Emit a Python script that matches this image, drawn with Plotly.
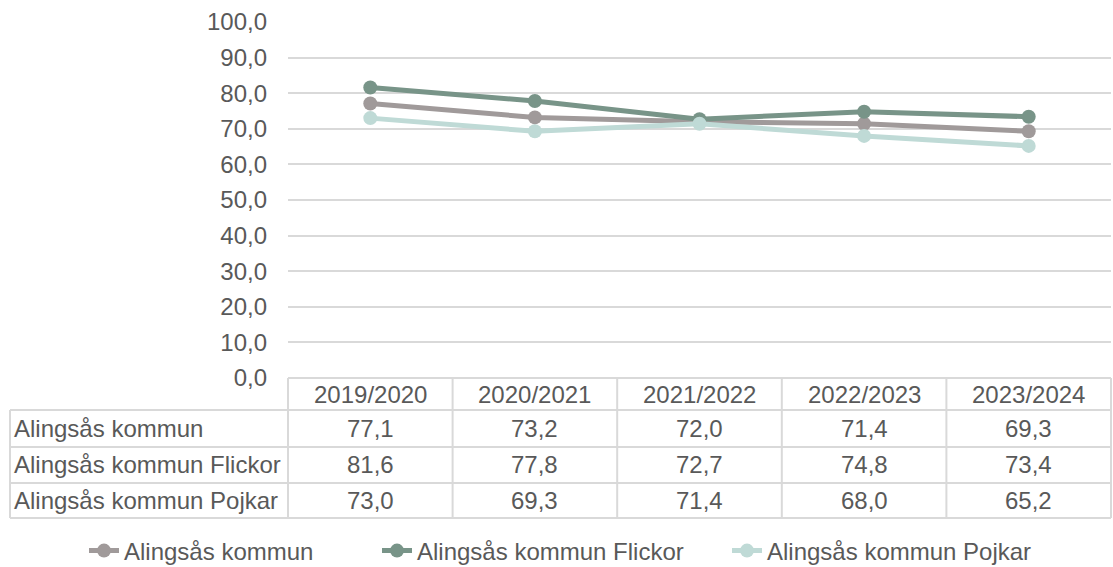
import plotly.graph_objects as go

categories = ["2019/2020", "2020/2021", "2021/2022", "2022/2023", "2023/2024"]
series_names = ["Alingsås kommun", "Alingsås kommun Flickor", "Alingsås kommun Pojkar"]
kommun = [77.1, 73.2, 72.0, 71.4, 69.3]
flickor = [81.6, 77.8, 72.7, 74.8, 73.4]
pojkar = [73.0, 69.3, 71.4, 68.0, 65.2]
colors = ["#A09A9A", "#789488", "#BFDAD6"]

W, H = 1113, 567
L, R, T, B = 288, 2, 22, 189
PW = W - L - R
PH = H - T - B
TXT = "#595959"
GRID = "#D9D9D9"
FONT = "Liberation Sans, Arial, sans-serif"
FS = 24

def px(x):
    return (x - L) / PW

def py(y):
    return (H - B - y) / PH

fig = go.Figure()
all_series = [kommun, flickor, pojkar]
legend_ids = ["legend", "legend2", "legend3"]
for name, vals, col, lg in zip(series_names, all_series, colors, legend_ids):
    fig.add_trace(go.Scatter(
        x=list(range(len(categories))), y=vals, name=name,
        mode="lines+markers",
        line=dict(color=col, width=5),
        marker=dict(color=col, size=14),
        cliponaxis=False, legend=lg,
    ))

shapes = []
def hline(y, x0, x1):
    shapes.append(dict(type="line", xref="paper", yref="paper",
                       x0=px(x0), x1=px(x1), y0=py(y), y1=py(y),
                       line=dict(color=GRID, width=2), layer="below"))
def vline(x, y0, y1):
    shapes.append(dict(type="line", xref="paper", yref="paper",
                       x0=px(x), x1=px(x), y0=py(y0), y1=py(y1),
                       line=dict(color=GRID, width=2), layer="below"))

row_y = [378, 410, 447, 483, 518]
col_w = PW / len(categories)
col_x = [L + i * col_w for i in range(len(categories) + 1)]
hline(row_y[0], L, W - R)
for y in row_y[1:]:
    hline(y, 10, W - R)
vline(10, row_y[1], row_y[-1])
for x in col_x:
    vline(x, row_y[0], row_y[-1])

annotations = []
def txt(text, x, y, anchor="center"):
    annotations.append(dict(text=text, xref="paper", yref="paper",
                            x=px(x), y=py(y), xanchor=anchor, yanchor="middle",
                            showarrow=False, font=dict(family=FONT, size=FS, color=TXT)))

for i, c in enumerate(categories):
    txt(c, col_x[i] + col_w / 2, (row_y[0] + row_y[1]) / 2)
for r, (name, vals) in enumerate(zip(series_names, all_series)):
    yc = (row_y[r + 1] + row_y[r + 2]) / 2
    txt(name, 12, yc, "left")
    for i, v in enumerate(vals):
        txt(f"{v:.1f}".replace(".", ","), col_x[i] + col_w / 2, yc)

legend_text_x = [126, 419, 769]
def legend_cfg(xpix):
    return dict(orientation="h", xref="container", yref="container",
                x=(xpix - 42) / W, xanchor="left", y=1 - 551 / H, yanchor="middle",
                font=dict(family=FONT, size=FS, color=TXT),
                bgcolor="rgba(0,0,0,0)")

fig.update_layout(
    width=W, height=H,
    margin=dict(l=L, r=R, t=T, b=B),
    paper_bgcolor="white", plot_bgcolor="white",
    separators=", ",
    font=dict(family=FONT, size=FS, color=TXT),
    xaxis=dict(range=[-0.5, len(categories) - 0.5], showticklabels=False,
               showgrid=False, zeroline=False, showline=False),
    yaxis=dict(range=[0, 100], dtick=10, tickformat=".1f", showgrid=True,
               gridcolor=GRID, gridwidth=2, zeroline=False, showline=False,
               ticks="", ticklabelstandoff=20,
               tickfont=dict(family=FONT, size=FS, color=TXT)),
    showlegend=True,
    legend=legend_cfg(legend_text_x[0]),
    legend2=legend_cfg(legend_text_x[1]),
    legend3=legend_cfg(legend_text_x[2]),
    shapes=shapes, annotations=annotations,
)

fig.write_html("out.html", config={"displayModeBar": False},
               post_script="document.body.style.margin='0';document.body.style.overflow='hidden';")
